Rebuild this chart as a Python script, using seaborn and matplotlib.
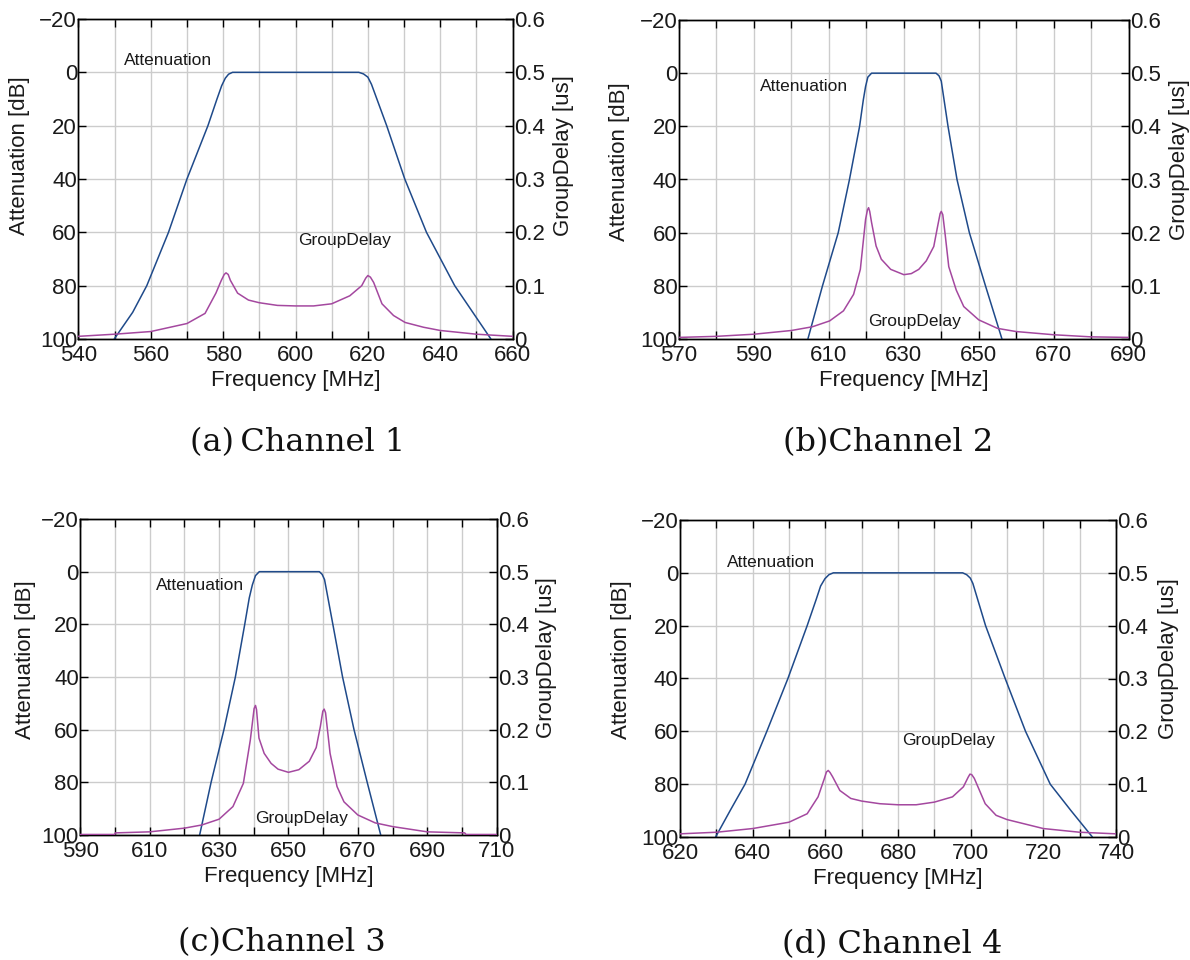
import numpy as np
import pandas as pd
import matplotlib
matplotlib.use("Agg")
import matplotlib.pyplot as plt
from matplotlib.ticker import MultipleLocator, FixedLocator
import seaborn as sns

# ---------------- data ----------------
# Channel 1
ch1_att_f = [549.9, 555.0, 558.9, 564.9, 570.0, 575.8, 578.3, 579.6, 580.6, 581.5, 582.6, 617.5, 618.8, 620.0, 621.0, 625.2, 630.2, 636.2, 644.0, 649.0, 654.0]
ch1_att_v = [100, 90, 80, 60, 40, 20, 10, 5, 2.2, 0.7, 0, 0, 0.6, 1.8, 4.5, 20, 40, 60, 80, 90, 100]
ch1_gd_f = [540, 550, 560, 570, 575, 578, 579.5, 580.3, 580.8, 581.4, 582, 584, 587, 590, 595, 600, 605, 610, 615, 618.3, 619.4, 620.0, 620.7, 621.6, 623.9, 627.1, 630.3, 635.4, 640, 650, 660]
ch1_gd_v = [0.005, 0.009, 0.014, 0.029, 0.048, 0.086, 0.110, 0.121, 0.124, 0.121, 0.110, 0.086, 0.073, 0.068, 0.063, 0.062, 0.062, 0.066, 0.081, 0.100, 0.114, 0.119, 0.116, 0.106, 0.066, 0.044, 0.031, 0.022, 0.016, 0.009, 0.005]

# Channel 2
ch2_att_f = [604.4, 608.3, 612.5, 615.5, 618.2, 619.2, 619.8, 620.4, 621.4, 638.6, 639.4, 640.0, 641.8, 644.2, 647.5, 651.8, 656.2]
ch2_att_v = [100, 80, 60, 40, 20, 10, 5, 1.5, 0, 0, 1.0, 3.0, 20, 40, 60, 80, 100]
ch2_gd_f = [570, 580, 590, 600, 605.6, 610.2, 613.9, 616.6, 618.4, 619.8, 620.3, 620.6, 620.9, 621.4, 622.6, 624, 626.5, 630, 632, 634, 636, 638, 639, 639.7, 640.0, 640.4, 641, 642, 644, 646, 650, 655, 660, 670, 680, 690]
ch2_gd_v = [0.003, 0.005, 0.009, 0.016, 0.023, 0.034, 0.053, 0.084, 0.131, 0.225, 0.243, 0.247, 0.240, 0.219, 0.175, 0.150, 0.131, 0.121, 0.123, 0.131, 0.147, 0.174, 0.211, 0.236, 0.240, 0.234, 0.199, 0.136, 0.092, 0.061, 0.036, 0.020, 0.014, 0.008, 0.004, 0.003]

# Channel 3
ch3_att_f = [624.4, 627.7, 631.4, 634.7, 637.4, 638.7, 639.6, 640.5, 641.6, 658.9, 659.7, 660.4, 662.8, 665.6, 668.9, 672.7, 676.6]
ch3_att_v = [100, 80, 60, 40, 20, 10, 5, 1.5, 0, 0, 1.0, 3.0, 20, 40, 60, 80, 100]
ch3_gd_f = [590, 599.9, 600.1, 610, 620, 625, 630, 634, 637, 639, 640.1, 640.5, 640.8, 641.5, 643, 645, 647, 650, 653, 656, 658, 659.2, 659.9, 660.3, 660.7, 662, 664, 666, 670, 675, 680, 690, 700.8, 701.2, 710]
ch3_gd_v = [0.001, 0.001, 0.004, 0.006, 0.013, 0.019, 0.030, 0.054, 0.098, 0.180, 0.240, 0.246, 0.238, 0.184, 0.155, 0.136, 0.125, 0.119, 0.124, 0.140, 0.166, 0.206, 0.235, 0.239, 0.232, 0.155, 0.092, 0.063, 0.038, 0.023, 0.016, 0.006, 0.004, 0.001, 0.001]

# Channel 4
ch4_att_f = [629.8, 633.8, 637.9, 643.9, 649.7, 655.0, 657.5, 658.7, 659.9, 661.0, 662.2, 697.8, 698.9, 699.9, 700.6, 704.1, 709.5, 715.1, 721.9, 727.6, 733.5]
ch4_att_v = [100, 90, 80, 60, 40, 20, 10, 5, 2.2, 0.7, 0, 0, 0.7, 2.0, 4.0, 20, 40, 60, 80, 90, 100]
ch4_gd_f = [620, 630, 640, 650, 655, 658, 659.7, 660.3, 660.8, 661.3, 662, 664, 667, 670, 675, 680, 685, 690, 695, 698, 699.3, 699.8, 700.3, 701, 702, 704, 707, 710, 720, 730, 740]
ch4_gd_v = [0.006, 0.009, 0.016, 0.028, 0.044, 0.076, 0.110, 0.123, 0.126, 0.122, 0.114, 0.088, 0.073, 0.068, 0.063, 0.061, 0.061, 0.066, 0.076, 0.095, 0.113, 0.119, 0.118, 0.111, 0.095, 0.063, 0.041, 0.033, 0.016, 0.009, 0.006]

x_ranges = [(540, 660), (570, 690), (590, 710), (620, 740)]
x_ticks = [[540, 560, 580, 600, 620, 640, 660],
           [570, 590, 610, 630, 650, 670, 690],
           [590, 610, 630, 650, 670, 690, 710],
           [620, 640, 660, 680, 700, 720, 740]]
att_ticks = [-20, 0, 20, 40, 60, 80, 100]
gd_ticks = [0, 0.1, 0.2, 0.3, 0.4, 0.5, 0.6]
gd_tick_labels = ["0", "0.1", "0.2", "0.3", "0.4", "0.5", "0.6"]
captions = ["(a)\u2009Channel 1", "(b)Channel 2", "(c)Channel 3", "(d) Channel 4"]
att_label_pos = [(552.7, -4.3), (591.5, 4.9), (611.7, 5.1), (632.9, -3.9)]
gd_label_pos = [(600.8, 63.0), (620.5, 93.3), (640.5, 93.7), (681.0, 63.4)]

att_f = [ch1_att_f, ch2_att_f, ch3_att_f, ch4_att_f]
att_v = [ch1_att_v, ch2_att_v, ch3_att_v, ch4_att_v]
gd_f = [ch1_gd_f, ch2_gd_f, ch3_gd_f, ch4_gd_f]
gd_v = [ch1_gd_v, ch2_gd_v, ch3_gd_v, ch4_gd_v]

# ---------------- style ----------------
sns.set_theme(style="white")
plt.rcParams['font.family'] = ['Liberation Sans', 'DejaVu Sans']
plt.rcParams['axes.unicode_minus'] = True

ATT_COLOR = "#1f4a8a"
GD_COLOR = "#a4489f"
GRID_COLOR = "#cccccc"
TXT = "#1a1a1a"
W, H = 1190, 960

fig = plt.figure(figsize=(11.9, 9.6), dpi=100)

# axes boxes in pixels: (left, right, top, bottom)
boxes = [(78.4, 512.6, 19, 339), (679, 1128.6, 20, 339),
         (80.3, 496.6, 519, 835), (680, 1116, 520, 837)]
ylab_left = [(-0.111, 0.572), (-0.109, 0.555), (-0.106, 0.554), (-0.110, 0.558)]
ylab_right = [(1.093, 0.572), (1.090, 0.564), (1.095, 0.563), (1.096, 0.562)]
cap_pos = [(298, 443), (888, 443), (282, 943), (892, 945)]

for i in range(4):
    l, r, t, b = boxes[i]
    ax = fig.add_axes([l / W, 1 - b / H, (r - l) / W, (b - t) / H])
    x0, x1 = x_ranges[i]
    df_a = pd.DataFrame({"f": att_f[i], "v": att_v[i]})
    df_g = pd.DataFrame({"f": gd_f[i], "v": gd_v[i]})

    sns.lineplot(data=df_a, x="f", y="v", ax=ax, color=ATT_COLOR, lw=1.1,
                 estimator=None, sort=False, zorder=3)
    ax.set_xlim(x0, x1)
    ax.set_ylim(100, -20)
    ax.xaxis.set_major_locator(FixedLocator(x_ticks[i]))
    ax.xaxis.set_minor_locator(MultipleLocator(10))
    ax.yaxis.set_major_locator(FixedLocator(att_ticks))
    ax.grid(True, which="both", axis="x", color=GRID_COLOR, lw=1.0)
    ax.grid(True, which="major", axis="y", color=GRID_COLOR, lw=1.0)
    ax.set_axisbelow(True)
    ax.tick_params(axis="both", which="both", direction="in", length=6,
                   width=1.0, color="black", labelsize=16, labelcolor=TXT, pad=1)
    ax.tick_params(axis="x", which="both", top=True, bottom=True,
                   labeltop=False, pad=4)
    ax.tick_params(axis="y", left=True, right=False)
    ax.set_xlabel("Frequency [MHz]", fontsize=16, color=TXT, labelpad=3)
    ax.set_ylabel("Attenuation [dB]", fontsize=16, color=TXT)
    ax.yaxis.set_label_coords(*ylab_left[i])
    for s in ax.spines.values():
        s.set_color("black")
        s.set_linewidth(1.0)

    ax2 = ax.twinx()
    sns.lineplot(data=df_g, x="f", y="v", ax=ax2, color=GD_COLOR, lw=1.1,
                 estimator=None, sort=False, zorder=3)
    ax2.set_ylim(0, 0.6)
    ax2.set_xlim(x0, x1)
    ax2.yaxis.set_major_locator(FixedLocator(gd_ticks))
    ax2.set_yticklabels(gd_tick_labels)
    ax2.grid(False)
    ax2.tick_params(axis="y", direction="in", length=6, width=1.0, color="black",
                    labelsize=16, labelcolor=TXT, pad=1, right=True, left=False)
    ax2.set_ylabel("GroupDelay [us]", fontsize=16, color=TXT)
    ax2.yaxis.set_label_coords(*ylab_right[i])
    ax2.set_xlabel("")
    for s in ax2.spines.values():
        s.set_color("black")
        s.set_linewidth(1.0)

    ax.text(att_label_pos[i][0], att_label_pos[i][1], "Attenuation",
            fontsize=12.5, color=TXT, ha="left", va="center", zorder=5)
    ax.text(gd_label_pos[i][0], gd_label_pos[i][1], "GroupDelay",
            fontsize=12.5, color=TXT, ha="left", va="center", zorder=5)

    fig.text(cap_pos[i][0] / W, 1 - cap_pos[i][1] / H, captions[i], ha="center",
             va="center", fontsize=23, family=["DejaVu Serif"], color="#111111")

fig.savefig("out.png", dpi=100)
